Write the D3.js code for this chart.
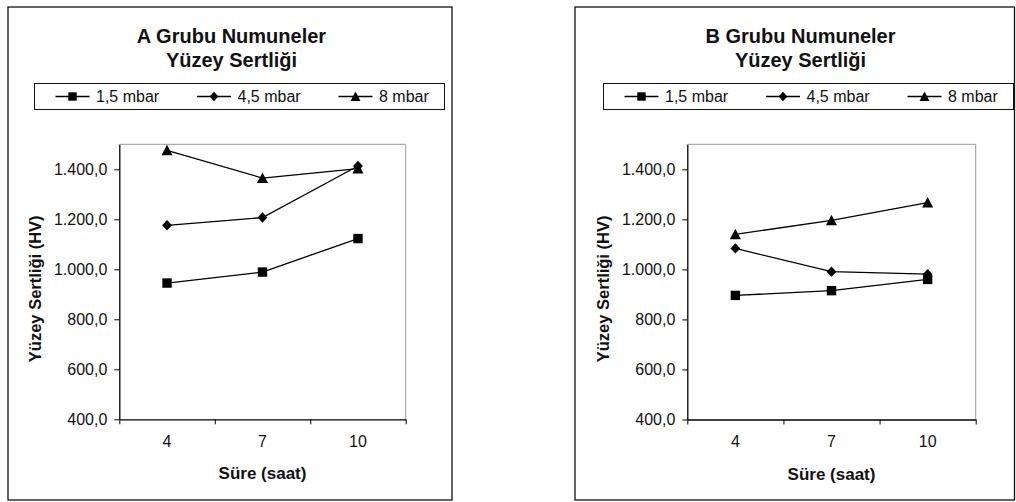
<!DOCTYPE html>
<html>
<head>
<meta charset="utf-8">
<script src="https://cdn.jsdelivr.net/npm/d3@7"></script>
<style>
  body { margin: 0; background: #fff; }
  svg { display: block; font-family: "Liberation Sans", Arial, sans-serif; }
</style>
</head>
<body>
<svg id="chart" width="1016" height="502"></svg>
<script>
// data
var periods = ["4", "7", "10"];
var seriesNames = ["1,5 mbar", "4,5 mbar", "8 mbar"];
var yTicks = [400, 600, 800, 1000, 1200, 1400];

var groupA_15 = [945, 989, 1123];
var groupA_45 = [1176, 1207, 1413];
var groupA_8  = [1476, 1365, 1403];

var groupB_15 = [896, 915, 960];
var groupB_45 = [1084, 991, 981];
var groupB_8  = [1140, 1196, 1267];

var panels = [
  { title: ["A Grubu Numuneler", "Yüzey Sertliği"], series: [groupA_15, groupA_45, groupA_8],
    frame: [8, 7, 452, 500], plot: [119.3, 144.3, 405.7, 419.3] },
  { title: ["B Grubu Numuneler", "Yüzey Sertliği"], series: [groupB_15, groupB_45, groupB_8],
    frame: [575, 7, 1014.5, 500], plot: [687.3, 144.3, 975.7, 419.5] }
];

var locale = d3.formatLocale({ decimal: ",", thousands: ".", grouping: [3], currency: ["", ""] });
var fmt = locale.format(",.1f");

// marker shapes (excel-like, a bit wider than d3 defaults)
var shapes = [
  { draw: function(c, s) { var h = s / 2; c.rect(-h, -h, s, s); } },
  { draw: function(c, s) { var h = s / 2 + 0.6, w = s / 2 + 0.3; c.moveTo(0, -h); c.lineTo(w, 0); c.lineTo(0, h); c.lineTo(-w, 0); c.closePath(); } },
  { draw: function(c, s) { var h = s / 2 + 0.6; c.moveTo(0, -h); c.lineTo(h, h - 0.6); c.lineTo(-h, h - 0.6); c.closePath(); } }
];
var markSize = [9.4, 9.2, 9.8];

var svg = d3.select("#chart");

panels.forEach(function(p) {
  var g = svg.append("g");
  var L = p.plot[0], T = p.plot[1], R = p.plot[2], B = p.plot[3];
  var cx = (L + R) / 2;

  g.append("rect")
    .attr("x", p.frame[0]).attr("y", p.frame[1])
    .attr("width", p.frame[2] - p.frame[0]).attr("height", p.frame[3] - p.frame[1])
    .attr("fill", "#fff").attr("stroke", "#111").attr("stroke-width", 1.3);

  // title
  var title = g.append("text")
    .attr("x", cx - 31).attr("text-anchor", "middle")
    .style("font-weight", "bold").style("font-size", "20px").attr("fill", "#111");
  p.title.forEach(function(t, i) {
    title.append("tspan").attr("x", cx - 31).attr("y", 42.5 + i * 24.5).text(t);
  });

  // legend
  var lx = cx - 23 - 205;
  var leg = g.append("g").attr("transform", "translate(" + lx + ",83.5)");
  leg.append("rect").attr("width", 410).attr("height", 26)
    .attr("fill", "#fff").attr("stroke", "#111").attr("stroke-width", 1);
  seriesNames.forEach(function(name, i) {
    var ex = 21 + i * 141.5;
    var e = leg.append("g").attr("transform", "translate(" + ex + ",13)");
    e.append("line").attr("x1", 0).attr("x2", 34).attr("stroke", "#000").attr("stroke-width", 1.4);
    e.append("path").attr("transform", "translate(17,0)")
      .attr("d", d3.symbol().type(shapes[i]).size(markSize[i] - 1)());
    e.append("text").attr("x", 40.5).attr("y", 5.6)
      .style("font-size", "16px").attr("fill", "#111").text(name);
  });

  var x = d3.scaleBand().domain(periods).range([L, R]);
  var xEdge = d3.scaleLinear().domain([0, periods.length]).range([L, R]);
  var y = d3.scaleLinear().domain([400, 1500]).range([B, T]);

  // plot area: grey top/right border
  g.append("path").attr("d", "M" + L + "," + T + "H" + R + "V" + B)
    .attr("fill", "none").attr("stroke", "#999").attr("stroke-width", 1);

  var ya = g.append("g").attr("transform", "translate(" + L + ",0)")
    .call(d3.axisLeft(y).tickValues(yTicks).tickFormat(fmt).tickSize(5).tickSizeOuter(0).tickPadding(7));
  ya.select(".domain").attr("stroke", "#000").attr("stroke-width", 1.3);
  ya.selectAll("text").style("font-size", "16px").style("font-family", "Liberation Sans, Arial, sans-serif").attr("fill", "#111");

  var xa = g.append("g").attr("transform", "translate(0," + B + ")")
    .call(d3.axisBottom(xEdge).tickValues(d3.range(periods.length + 1)).tickFormat("").tickSize(5).tickSizeOuter(0));
  xa.select(".domain").attr("stroke", "#000").attr("stroke-width", 1.3);

  var xl = g.append("g").attr("transform", "translate(0," + B + ")")
    .call(d3.axisBottom(x).tickSize(0).tickPadding(16));
  xl.select(".domain").remove();
  xl.selectAll("text").style("font-size", "16px").style("font-family", "Liberation Sans, Arial, sans-serif").attr("fill", "#111");

  // axis titles
  g.append("text").attr("x", cx).attr("y", B + 60).attr("text-anchor", "middle")
    .style("font-weight", "bold").style("font-size", "17px").attr("fill", "#111").text("Süre (saat)");
  g.append("text").attr("transform", "translate(" + (L - 78) + "," + ((T + B) / 2 + 7) + ") rotate(-90)")
    .attr("text-anchor", "middle")
    .style("font-weight", "bold").style("font-size", "16.5px").attr("fill", "#111").text("Yüzey Sertliği (HV)");

  // series
  var line = d3.line().x(function(d, i) { return x(periods[i]) + x.bandwidth() / 2; }).y(function(d) { return y(d); });
  p.series.forEach(function(vals, si) {
    g.append("path").datum(vals).attr("d", line)
      .attr("fill", "none").attr("stroke", "#000").attr("stroke-width", 1.3);
    g.selectAll(".m" + si).data(vals).enter().append("path")
      .attr("transform", function(d, i) { return "translate(" + (x(periods[i]) + x.bandwidth() / 2) + "," + y(d) + ")"; })
      .attr("d", d3.symbol().type(shapes[si]).size(markSize[si]))
      .attr("fill", "#000");
  });
});
</script>
</body>
</html>
